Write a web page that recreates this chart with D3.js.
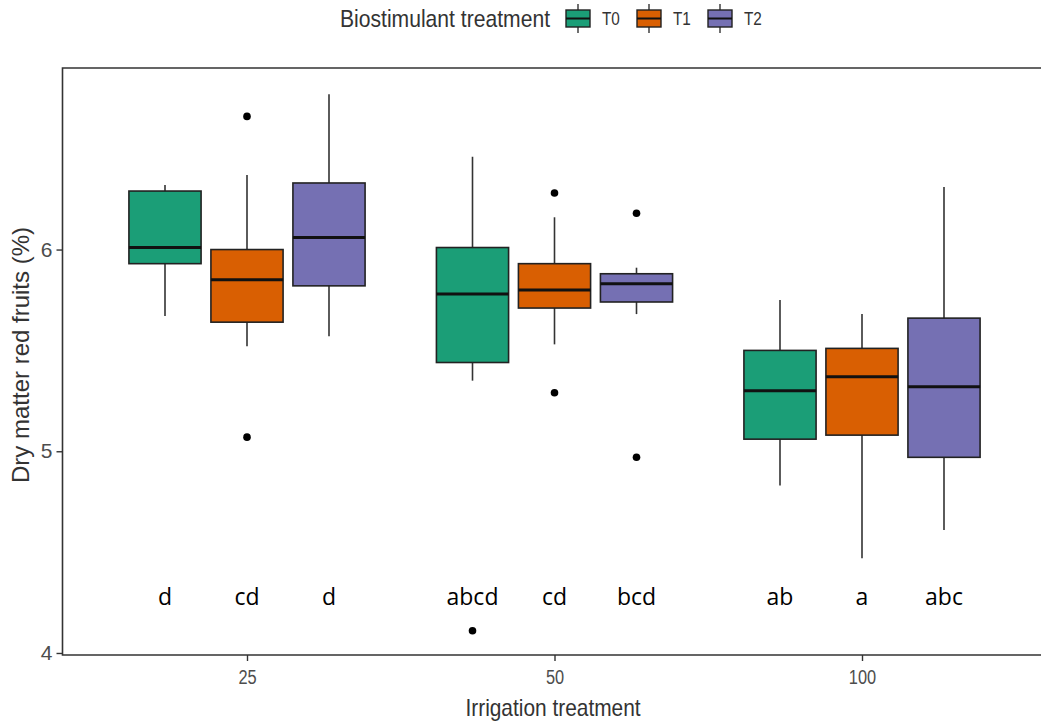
<!DOCTYPE html>
<html>
<head>
<meta charset="utf-8">
<script src="https://cdn.jsdelivr.net/npm/d3@7"></script>
<style>
  body { margin: 0; background: #fff; }
  text { font-family: "Liberation Sans", Arial, sans-serif; }
  .letter { font-family: "Open Sans", "DejaVu Sans", sans-serif; }
</style>
</head>
<body>
<svg id="vis" width="1041" height="722"></svg>
<script>
// irrigation levels and biostimulant treatments
var irrigation = ["25", "50", "100"];
var treatments = ["T0", "T1", "T2"];
var colors = ["#1B9E77", "#D95F02", "#7570B3"];

// box statistics, one row per irrigation level, one entry per treatment
var whiskerLow = [[5.67, 5.52, 5.57], [5.35, 5.53, 5.68], [4.83, 4.47, 4.61]];
var q1 = [[5.93, 5.64, 5.82], [5.44, 5.71, 5.74], [5.06, 5.08, 4.97]];
var median = [[6.01, 5.85, 6.06], [5.78, 5.80, 5.83], [5.30, 5.37, 5.32]];
var q3 = [[6.29, 6.00, 6.33], [6.01, 5.93, 5.88], [5.50, 5.51, 5.66]];
var whiskerHigh = [[6.32, 6.37, 6.77], [6.46, 6.16, 5.91], [5.75, 5.68, 6.31]];
var outliers = [[[], [6.66, 5.07], []], [[4.11], [6.28, 5.29], [6.18, 4.97]], [[], [], []]];

// significance letters
var letters = [["d", "cd", "d"], ["abcd", "cd", "bcd"], ["ab", "a", "abc"]];
var letterY = 4.28;

var yTicks = [4, 5, 6];

var svg = d3.select("#vis");
var width = 1041, height = 722;

var xScale = d3.scalePoint().domain(irrigation).range([247, 862]);
var step = xScale.step();
var panelLeft = xScale("25") - 0.6 * step;
var panelRight = xScale("100") + 0.6 * step;

var yScale = d3.scaleLinear().domain([3.99, 6.9]).range([655, 68]);

var sub = d3.scaleBand()
  .domain(treatments)
  .range([-123, 123])
  .paddingInner(0.12)
  .paddingOuter(0.06);

var color = d3.scaleOrdinal().domain(treatments).range(colors);

svg.append("rect")
  .attr("width", width)
  .attr("height", height)
  .attr("fill", "#fff");

// narrow text, the original picture is squeezed sideways
function squeeze(sel, x, y, k) {
  sel.attr("transform", "translate(" + x + "," + y + ") scale(" + k + ",1)");
}

// build flat table for drawing
var boxes = [];
irrigation.forEach(function(g, i) {
  treatments.forEach(function(t, j) {
    boxes.push({
      group: g,
      trt: t,
      lo: whiskerLow[i][j],
      q1: q1[i][j],
      med: median[i][j],
      q3: q3[i][j],
      hi: whiskerHigh[i][j],
      out: outliers[i][j],
      letter: letters[i][j],
      cx: xScale(g) + sub(t) + sub.bandwidth() / 2
    });
  });
});

var plot = svg.append("g");

// whiskers
plot.selectAll(".whisker")
  .data(boxes)
  .enter()
  .append("line")
  .attr("x1", d => d.cx)
  .attr("x2", d => d.cx)
  .attr("y1", d => yScale(d.lo))
  .attr("y2", d => yScale(d.hi))
  .style("stroke", "#333")
  .style("stroke-width", "1.6px");

// boxes
plot.selectAll(".box")
  .data(boxes)
  .enter()
  .append("rect")
  .attr("x", d => d.cx - sub.bandwidth() / 2)
  .attr("width", sub.bandwidth())
  .attr("y", d => yScale(d.q3))
  .attr("height", d => yScale(d.q1) - yScale(d.q3))
  .style("fill", d => color(d.trt))
  .style("stroke", "#222")
  .style("stroke-width", "1.6px");

// medians
plot.selectAll(".median")
  .data(boxes)
  .enter()
  .append("line")
  .attr("x1", d => d.cx - sub.bandwidth() / 2)
  .attr("x2", d => d.cx + sub.bandwidth() / 2)
  .attr("y1", d => yScale(d.med))
  .attr("y2", d => yScale(d.med))
  .style("stroke", "#111")
  .style("stroke-width", "3px");

// outliers
boxes.forEach(function(b) {
  plot.selectAll(null)
    .data(b.out)
    .enter()
    .append("circle")
    .attr("cx", b.cx)
    .attr("cy", d => yScale(d))
    .attr("r", 3.8)
    .style("fill", "#000");
});

// letters
plot.selectAll(".letter")
  .data(boxes)
  .enter()
  .append("text")
  .attr("class", "letter")
  .attr("x", d => d.cx)
  .attr("y", yScale(letterY))
  .attr("dy", "0.35em")
  .attr("text-anchor", "middle")
  .style("font-size", "23px")
  .style("fill", "#000")
  .text(d => d.letter);

// panel border
svg.append("path")
  .attr("d", "M" + panelRight + "," + yScale.range()[1] + "H" + panelLeft +
    "V" + yScale.range()[0] + "H" + panelRight)
  .style("fill", "none")
  .style("stroke", "#333")
  .style("stroke-width", "1.6px");

// y axis
var yAxis = svg.append("g")
  .attr("transform", "translate(" + panelLeft + ",0)")
  .call(d3.axisLeft(yScale).tickValues(yTicks).tickSize(6).tickPadding(4).tickFormat(d3.format("d")));
yAxis.select(".domain").remove();
yAxis.selectAll("line").style("stroke", "#333").style("stroke-width", "1.4px");
yAxis.selectAll("text").style("font-size", "21px").style("fill", "#4D4D4D").attr("font-family", null);

// x axis
var xAxis = svg.append("g")
  .attr("transform", "translate(0," + yScale.range()[0] + ")")
  .call(d3.axisBottom(xScale).tickSize(6).tickPadding(8));
xAxis.select(".domain").remove();
xAxis.selectAll("line").style("stroke", "#333").style("stroke-width", "1.4px");
xAxis.selectAll("text")
  .style("font-size", "21px")
  .style("fill", "#4D4D4D")
  .attr("font-family", null)
  .attr("transform", "scale(0.78,1)");

// axis titles
svg.append("text")
  .attr("text-anchor", "middle")
  .style("font-size", "24px")
  .style("fill", "#333")
  .text("Irrigation treatment")
  .call(squeeze, 553, 716, 0.87);

svg.append("text")
  .attr("transform", "translate(29,355) rotate(-90)")
  .attr("text-anchor", "middle")
  .style("font-size", "24px")
  .style("fill", "#333")
  .text("Dry matter red fruits (%)");

// legend
var legend = svg.append("g").attr("transform", "translate(0,19)");
legend.append("text")
  .attr("dy", "0.35em")
  .attr("text-anchor", "end")
  .style("font-size", "24px")
  .style("fill", "#333")
  .text("Biostimulant treatment")
  .call(squeeze, 550, 0, 0.88);

var keyX = d3.scaleOrdinal().domain(treatments).range([566, 637, 708]);
var keys = legend.selectAll(".key")
  .data(treatments)
  .enter()
  .append("g")
  .attr("transform", d => "translate(" + keyX(d) + ",0)");

keys.append("line")
  .attr("x1", 12).attr("x2", 12)
  .attr("y1", -15).attr("y2", 14)
  .style("stroke", "#333")
  .style("stroke-width", "1.4px");
keys.append("rect")
  .attr("x", 0)
  .attr("y", -9)
  .attr("width", 24)
  .attr("height", 17)
  .style("fill", d => color(d))
  .style("stroke", "#222")
  .style("stroke-width", "1.4px");
keys.append("line")
  .attr("x1", 0).attr("x2", 24)
  .attr("y1", -0.5).attr("y2", -0.5)
  .style("stroke", "#111")
  .style("stroke-width", "2px");
keys.append("text")
  .attr("dy", "0.35em")
  .style("font-size", "18px")
  .style("fill", "#333")
  .text(d => d)
  .call(squeeze, 36, 0, 0.85);
</script>
</body>
</html>
